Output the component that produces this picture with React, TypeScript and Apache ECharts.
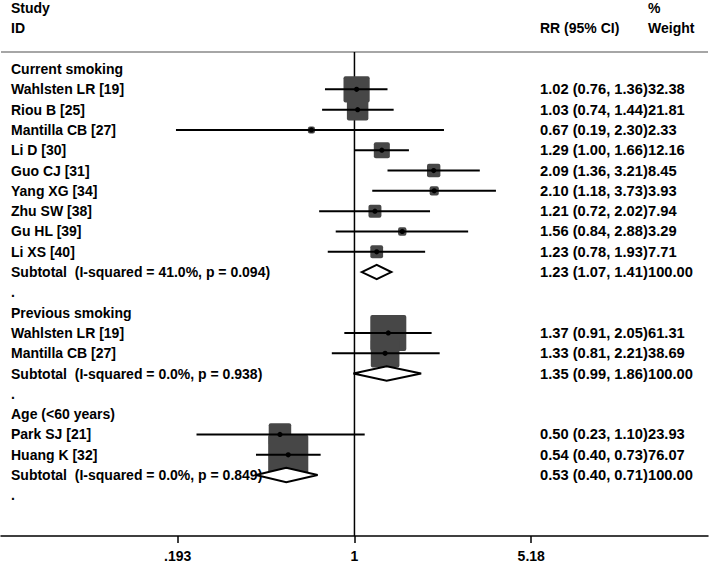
import React, { useEffect, useRef } from "react";
import * as echarts from "echarts";

// ---------- data ----------
const groupTitles = ["Current smoking", "Previous smoking", "Age (<60 years)"];
const studyGroup = [0, 0, 0, 0, 0, 0, 0, 0, 0, 1, 1, 2, 2];
const studyNames = [
  "Wahlsten LR [19]",
  "Riou B [25]",
  "Mantilla CB [27]",
  "Li D [30]",
  "Guo CJ [31]",
  "Yang XG [34]",
  "Zhu SW [38]",
  "Gu HL [39]",
  "Li XS [40]",
  "Wahlsten LR [19]",
  "Mantilla CB [27]",
  "Park SJ [21]",
  "Huang K [32]",
];
const studyRR = [1.02, 1.03, 0.67, 1.29, 2.09, 2.1, 1.21, 1.56, 1.23, 1.37, 1.33, 0.5, 0.54];
const studyLow = [0.76, 0.74, 0.19, 1.0, 1.36, 1.18, 0.72, 0.84, 0.78, 0.91, 0.81, 0.23, 0.4];
const studyHigh = [1.36, 1.44, 2.3, 1.66, 3.21, 3.73, 2.02, 2.88, 1.93, 2.05, 2.21, 1.1, 0.73];
const studyWeight = [32.38, 21.81, 2.33, 12.16, 8.45, 3.93, 7.94, 3.29, 7.71, 61.31, 38.69, 23.93, 76.07];
const subtotalHet = [
  "I-squared = 41.0%, p = 0.094",
  "I-squared = 0.0%, p = 0.938",
  "I-squared = 0.0%, p = 0.849",
];
const subtotalRR = [1.23, 1.35, 0.53];
const subtotalLow = [1.07, 0.99, 0.4];
const subtotalHigh = [1.41, 1.86, 0.71];
const subtotalWeight = [100.0, 100.0, 100.0];
const tickValues = [0.193, 1, 5.18];
const tickLabels = [".193", "1", "5.18"];
const axisRange = [0.0373, 26.83];
const headerLeft = ["Study", "ID"];
const headerStat = "RR (95% CI)";
const headerWeight = ["%", "Weight"];

// ---------- layout / style ----------
const FONT_FAMILY = '"Liberation Sans", Arial, sans-serif';
const FONT = `bold 14px ${FONT_FAMILY}`;
const FONT_STAT = `bold 14.7px ${FONT_FAMILY}`;
const LEFT_X = 11;
const RIGHT_X = 540;
const WEIGHT_X = 648;
const ROW_MIN = -3.4;
const ROW_MAX = 23;
const RULE_ROW = -0.84;
const BOX_SCALE = 4.6;
const BOX_COLOR = "#474747";

type Row = {
  row: number;
  kind: "title" | "study" | "subtotal" | "gap";
  label: string;
  ci?: string;
  wt?: string;
  rr?: number;
  lo?: number;
  hi?: number;
  w?: number;
};

const fmtCI = (rr: number, lo: number, hi: number) =>
  `${rr.toFixed(2)} (${lo.toFixed(2)}, ${hi.toFixed(2)})`;

const rows: Row[] = [];
{
  let r = 0;
  groupTitles.forEach((title, g) => {
    rows.push({ row: r++, kind: "title", label: title });
    studyNames.forEach((name, i) => {
      if (studyGroup[i] !== g) return;
      rows.push({
        row: r++,
        kind: "study",
        label: name,
        rr: studyRR[i],
        lo: studyLow[i],
        hi: studyHigh[i],
        w: studyWeight[i],
        ci: fmtCI(studyRR[i], studyLow[i], studyHigh[i]),
        wt: studyWeight[i].toFixed(2),
      });
    });
    rows.push({
      row: r++,
      kind: "subtotal",
      label: `Subtotal  (${subtotalHet[g]})`,
      rr: subtotalRR[g],
      lo: subtotalLow[g],
      hi: subtotalHigh[g],
      w: subtotalWeight[g],
      ci: fmtCI(subtotalRR[g], subtotalLow[g], subtotalHigh[g]),
      wt: subtotalWeight[g].toFixed(2),
    });
    rows.push({ row: r++, kind: "gap", label: "." });
  });
}

type TextItem = { row: number; x: number; text: string; font: string };
const texts: TextItem[] = [
  { row: -3, x: LEFT_X, text: headerLeft[0], font: FONT },
  { row: -2, x: LEFT_X, text: headerLeft[1], font: FONT },
  { row: -2, x: RIGHT_X, text: headerStat, font: FONT },
  { row: -3, x: WEIGHT_X, text: headerWeight[0], font: FONT },
  { row: -2, x: WEIGHT_X, text: headerWeight[1], font: FONT },
];
rows.forEach((r) => {
  texts.push({ row: r.row, x: LEFT_X, text: r.label, font: FONT });
  if (r.ci) texts.push({ row: r.row, x: RIGHT_X, text: r.ci, font: FONT_STAT });
  if (r.wt) texts.push({ row: r.row, x: WEIGHT_X, text: r.wt, font: FONT_STAT });
});

const studyRows = rows.filter((r) => r.kind === "study");
const subRows = rows.filter((r) => r.kind === "subtotal");

export default function App() {
  const ref = useRef<HTMLDivElement>(null);
  useEffect(() => {
    document.body.style.margin = "0";
    if (!ref.current) return;
    const chart = echarts.init(ref.current, undefined, { renderer: "svg" });
    const ln = Math.log;
    const option: any = {
      animation: false,
      backgroundColor: "#fff",
      grid: { left: 1, right: 1, top: 0, bottom: 28, containLabel: false },
      xAxis: {
        type: "value",
        min: ln(axisRange[0]),
        max: ln(axisRange[1]),
        splitLine: { show: false },
        axisLine: { show: true, onZero: false, lineStyle: { color: "#000", width: 1.5 } },
        axisTick: {
          show: true,
          customValues: tickValues.map((v) => ln(v)),
          length: 7,
          lineStyle: { color: "#000", width: 1.5 },
        },
        axisLabel: {
          customValues: tickValues.map((v) => ln(v)),
          formatter: (v: number) => {
            let best = 0;
            tickValues.forEach((t, i) => {
              if (Math.abs(ln(t) - v) < Math.abs(ln(tickValues[best]) - v)) best = i;
            });
            return tickLabels[best];
          },
          color: "#000",
          fontFamily: FONT_FAMILY,
          fontWeight: "bold",
          fontSize: 14,
          margin: 13,
        },
      },
      yAxis: {
        type: "value",
        inverse: true,
        min: ROW_MIN,
        max: ROW_MAX,
        show: false,
      },
      series: [
        {
          type: "line",
          data: [
            [ln(axisRange[0]), RULE_ROW],
            [ln(axisRange[1]), RULE_ROW],
          ],
          symbol: "none",
          lineStyle: { color: "#888", width: 1.5 },
          z: 1,
          silent: true,
        },
        {
          type: "line",
          data: [
            [0, RULE_ROW],
            [0, ROW_MAX],
          ],
          symbol: "none",
          lineStyle: { color: "#000", width: 1.5 },
          z: 1,
          silent: true,
        },
        {
          type: "custom",
          z: 2,
          data: studyRows.map((r) => [ln(r.rr!), r.row, r.w!]),
          encode: { x: 0, y: 1 },
          renderItem: (_p: any, api: any) => {
            const c = api.coord([api.value(0), api.value(1)]);
            const s = BOX_SCALE * Math.sqrt(api.value(2));
            return {
              type: "rect",
              shape: { x: c[0] - s / 2, y: c[1] - s / 2, width: s, height: s, r: 2 },
              style: { fill: BOX_COLOR },
            };
          },
        },
        {
          type: "custom",
          z: 3,
          data: studyRows.map((r) => [ln(r.rr!), r.row, ln(r.lo!), ln(r.hi!)]),
          encode: { x: 0, y: 1 },
          renderItem: (_p: any, api: any) => {
            const c = api.coord([api.value(0), api.value(1)]);
            const a = api.coord([api.value(2), api.value(1)]);
            const b = api.coord([api.value(3), api.value(1)]);
            return {
              type: "group",
              children: [
                {
                  type: "line",
                  shape: { x1: a[0], y1: a[1], x2: b[0], y2: b[1] },
                  style: { stroke: "#000", lineWidth: 2 },
                },
                {
                  type: "circle",
                  shape: { cx: c[0], cy: c[1], r: 2.6 },
                  style: { fill: "#000" },
                },
              ],
            };
          },
        },
        {
          type: "custom",
          z: 4,
          data: texts.map((t) => [0, t.row]),
          encode: { x: 0, y: 1 },
          renderItem: (p: any, api: any) => {
            const t = texts[p.dataIndex];
            const y = api.coord([0, t.row])[1];
            return {
              type: "text",
              x: t.x,
              y,
              style: {
                text: t.text,
                font: t.font,
                fill: "#000",
                align: "left",
                verticalAlign: "middle",
              },
            };
          },
        },
        {
          type: "custom",
          z: 5,
          data: subRows.map((r) => [ln(r.rr!), r.row, ln(r.lo!), ln(r.hi!)]),
          encode: { x: 0, y: 1 },
          renderItem: (_p: any, api: any) => {
            const c = api.coord([api.value(0), api.value(1)]);
            const a = api.coord([api.value(2), api.value(1)]);
            const b = api.coord([api.value(3), api.value(1)]);
            const h = 7.2;
            return {
              type: "polygon",
              shape: {
                points: [
                  [a[0], c[1]],
                  [c[0], c[1] - h],
                  [b[0], c[1]],
                  [c[0], c[1] + h],
                ],
              },
              style: { fill: "#fff", stroke: "#000", lineWidth: 2 },
            };
          },
        },
      ],
    };
    chart.setOption(option);
    return () => chart.dispose();
  }, []);
  return <div ref={ref} style={{ width: 709, height: 564 }} />;
}
